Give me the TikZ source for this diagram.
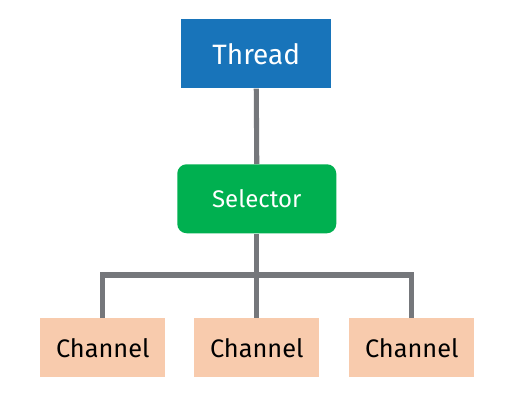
\documentclass[tikz,border=0pt]{standalone}
\usepackage{fontspec}
\setmainfont{Fira Sans}
\definecolor{threadblue}{HTML}{1874BA}
\definecolor{selgreen}{HTML}{00B050}
\definecolor{chanpeach}{HTML}{F8CBAD}
\definecolor{linegray}{HTML}{75777B}
\begin{document}
\begin{tikzpicture}[x=0.75pt,y=-0.75pt,
  box/.style={inner sep=0pt, anchor=north west},
  wire/.style={draw=linegray, line width=3.8pt},
  chan/.style={box, fill=chanpeach, minimum width=125*0.75pt, minimum height=59*0.75pt, font=\fontsize{19pt}{22pt}\selectfont, text=black}]
\useasboundingbox (0,0) rectangle (506,417);
\node[box, fill=threadblue, minimum width=150*0.75pt, minimum height=69*0.75pt, text=white, font=\fontsize{21pt}{24pt}\selectfont] (thread) at (181,19) {Thread};
\node[box, fill=selgreen, rounded corners=7pt, minimum width=159*0.75pt, minimum height=69*0.75pt, text=white, font=\fontsize{18pt}{21pt}\selectfont] (sel) at (177,164) {Selector};
\node[chan] (c1) at (40,318) {Channel};
\node[chan] (c2) at (194,318) {Channel};
\node[chan] (c3) at (349,318) {Channel};
\coordinate (j) at (256,275);
\begin{scope}[on background layer/.try]
\draw[wire] (thread.south) -- (sel.north);
\draw[wire] (sel.south) -- (c2.north);
\draw[wire] (c1.north) -- (c1.north |- j) -- (c3.north |- j) -- (c3.north);
\end{scope}
\end{tikzpicture}
\end{document}
